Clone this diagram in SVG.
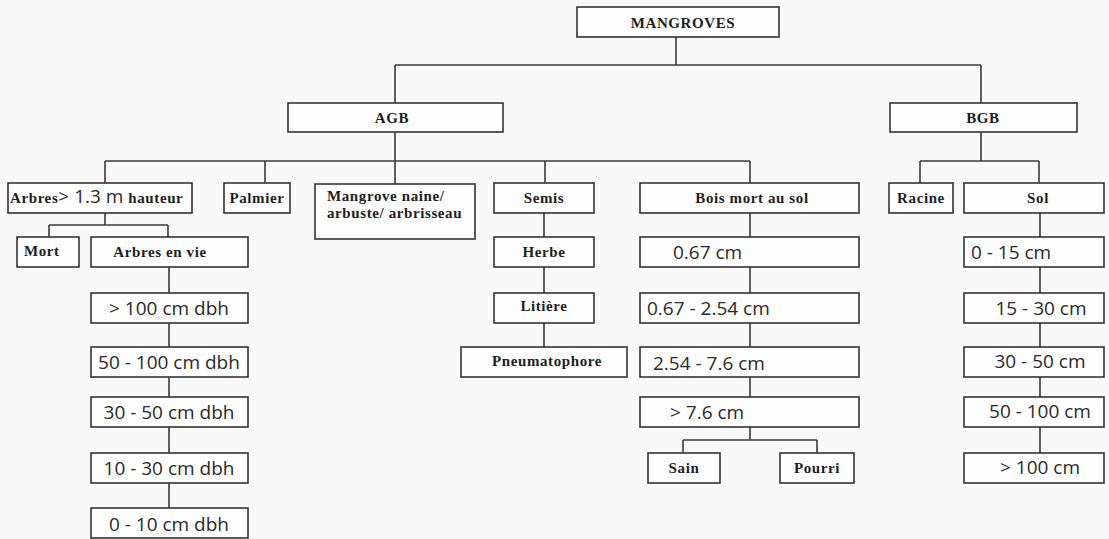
<svg xmlns="http://www.w3.org/2000/svg" width="1109" height="539" viewBox="0 0 1109 539">
<style>
.b{fill:#fdfdfd;stroke:#333;stroke-width:1.6}
.c{fill:none;stroke:#3a3a3a;stroke-width:1.6}
.s{font-family:"Liberation Serif",serif;font-weight:bold;font-size:15px;letter-spacing:0.6px;fill:#1e1e1e}
.n{font-family:"Open Sans","Liberation Sans",sans-serif;font-size:19px;fill:#2a2a2a}
.m{text-anchor:middle}
</style>
<rect width="1109" height="539" fill="#f9f9f9"/>
<g id="connectors">
<path class="c" d="M676,37V65M395,65H981M395,65V103M981,65V103"/>
<path class="c" d="M395,132V161M105,161H750M105,161V183M265,161V183M395,161V184M545,161V183M750,161V183"/>
<path class="c" d="M981,132V161M920,161H1039M920,161V183M1039,161V183"/>
<path class="c" d="M105,213V225M49,225H168M49,225V237M168,225V237"/>
<path class="c" d="M169,267V293M169,323V347M169,377V397M169,427V453M169,483V508"/>
<path class="c" d="M544,213V237M544,267V293M544,323V347"/>
<path class="c" d="M750,213V237M750,267V293M750,323V347M750,377V397M750,427V440M683,440H817M683,440V453M817,440V453"/>
<path class="c" d="M1040,213V237M1040,267V293M1040,323V347M1040,377V397M1040,427V453"/>
</g>
<g id="mangroves"><rect class="b" x="577" y="7" width="202" height="30"/><text class="s m" x="683" y="28" font-size="15">MANGROVES</text></g>
<g id="agb"><rect class="b" x="288" y="103" width="215" height="29"/><text class="s m" x="392" y="123" font-size="16">AGB</text></g>
<g id="bgb"><rect class="b" x="890" y="103" width="187" height="29"/><text class="s m" x="983" y="123" font-size="16">BGB</text></g>
<g id="arbres"><rect class="b" x="8" y="183" width="184" height="30"/><text x="10" y="203"><tspan class="s" font-size="14" letter-spacing="0.3">Arbres</tspan><tspan class="n" font-size="21">&gt; 1.3 m </tspan><tspan class="s" font-size="14" letter-spacing="0.5">hauteur</tspan></text></g>
<g id="palmier"><rect class="b" x="224" y="183" width="66" height="30"/><text class="s m" x="257" y="203">Palmier</text></g>
<g id="mangrove-naine"><rect class="b" x="315" y="184" width="160" height="55"/><text class="s" x="327" y="201">Mangrove naine/</text><text class="s" x="327" y="218">arbuste/ arbrisseau</text></g>
<g id="semis"><rect class="b" x="494" y="183" width="100" height="30"/><text class="s m" x="544" y="203">Semis</text></g>
<g id="bois-mort"><rect class="b" x="640" y="183" width="219" height="30"/><text class="s m" x="752" y="203">Bois mort au sol</text></g>
<g id="racine"><rect class="b" x="889" y="183" width="64" height="30"/><text class="s m" x="921" y="203">Racine</text></g>
<g id="sol"><rect class="b" x="964" y="183" width="140" height="30"/><text class="s m" x="1038" y="203">Sol</text></g>
<g id="mort"><rect class="b" x="17" y="237" width="62" height="30"/><text class="s" x="24" y="256">Mort</text></g>
<g id="arbres-en-vie"><rect class="b" x="91" y="237" width="157" height="30"/><text class="s m" x="160" y="257">Arbres en vie</text></g>
<g id="dbh100"><rect class="b" x="91" y="293" width="157" height="30"/><text class="n m" x="169" y="315">&gt; 100 cm dbh</text></g>
<g id="dbh50-100"><rect class="b" x="91" y="347" width="157" height="30"/><text class="n m" x="169" y="369">50 - 100 cm dbh</text></g>
<g id="dbh30-50"><rect class="b" x="91" y="397" width="157" height="30"/><text class="n m" x="169" y="419">30 - 50 cm dbh</text></g>
<g id="dbh10-30"><rect class="b" x="91" y="453" width="157" height="30"/><text class="n m" x="169" y="475">10 - 30 cm dbh</text></g>
<g id="dbh0-10"><rect class="b" x="91" y="508" width="157" height="30"/><text class="n m" x="169" y="531">0 - 10 cm dbh</text></g>
<g id="herbe"><rect class="b" x="494" y="237" width="100" height="30"/><text class="s m" x="544" y="257">Herbe</text></g>
<g id="litiere"><rect class="b" x="494" y="293" width="100" height="30"/><text class="s m" x="544" y="311">Litière</text></g>
<g id="pneumatophore"><rect class="b" x="461" y="347" width="166" height="30"/><text class="s m" x="547" y="366">Pneumatophore</text></g>
<g id="d067"><rect class="b" x="640" y="237" width="219" height="30"/><text class="n" x="673" y="259">0.67 cm</text></g>
<g id="d067-254"><rect class="b" x="640" y="293" width="219" height="30"/><text class="n" x="647" y="315">0.67 - 2.54 cm</text></g>
<g id="d254-76"><rect class="b" x="640" y="347" width="219" height="30"/><text class="n" x="653" y="370">2.54 - 7.6 cm</text></g>
<g id="d76"><rect class="b" x="640" y="397" width="219" height="30"/><text class="n" x="670" y="419">&gt; 7.6 cm</text></g>
<g id="sain"><rect class="b" x="648" y="453" width="72" height="30"/><text class="s m" x="684" y="473">Sain</text></g>
<g id="pourri"><rect class="b" x="780" y="453" width="74" height="30"/><text class="s m" x="817" y="473">Pourri</text></g>
<g id="sol0-15"><rect class="b" x="964" y="237" width="140" height="30"/><text class="n" x="971" y="259">0 - 15 cm</text></g>
<g id="sol15-30"><rect class="b" x="964" y="293" width="140" height="30"/><text class="n m" x="1041" y="315">15 - 30 cm</text></g>
<g id="sol30-50"><rect class="b" x="964" y="347" width="140" height="30"/><text class="n m" x="1040" y="368">30 - 50 cm</text></g>
<g id="sol50-100"><rect class="b" x="964" y="397" width="140" height="30"/><text class="n m" x="1040" y="418">50 - 100 cm</text></g>
<g id="sol100"><rect class="b" x="964" y="453" width="140" height="30"/><text class="n m" x="1040" y="474">&gt; 100 cm</text></g>
</svg>
